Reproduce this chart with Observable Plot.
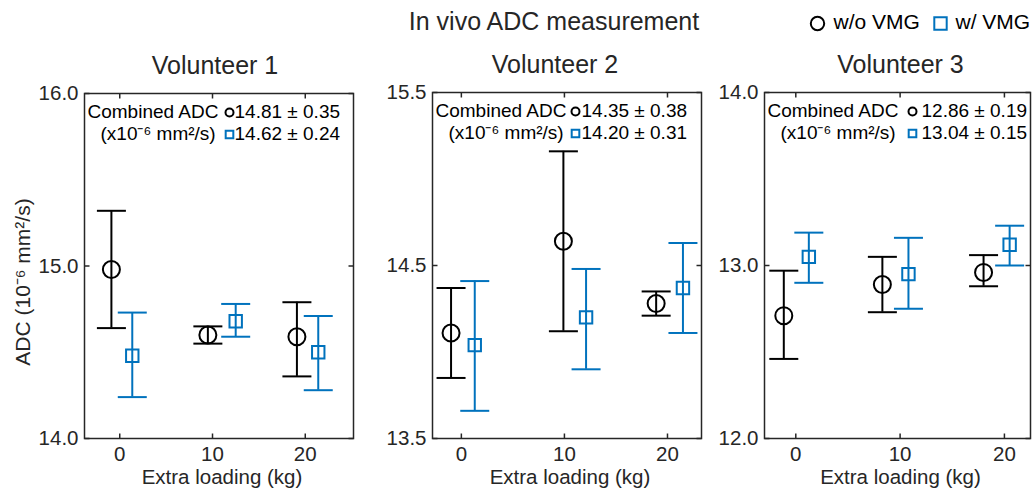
<!DOCTYPE html>
<html>
<head>
<meta charset="utf-8">
<script src="https://cdn.jsdelivr.net/npm/d3@7"></script>
<script src="https://cdn.jsdelivr.net/npm/@observablehq/plot@0.6"></script>
<style>
  html, body { margin: 0; padding: 0; background: #fff; }
  #chart { position: relative; width: 1032px; height: 494px; overflow: hidden; background: #fff; }
</style>
</head>
<body>
<div id="chart"></div>
<script>
// ---------------- data ----------------
const loadings = [0, 10, 20];
const xTickLabels = ["0", "10", "20"];
const seriesNames = ["w/o VMG", "w/ VMG"];
const panelTitles = ["Volunteer 1", "Volunteer 2", "Volunteer 3"];
const mainTitle = "In vivo ADC measurement";
const yLabel = "ADC (10⁻⁶ mm²/s)";
const xLabel = "Extra loading (kg)";
const combinedLabel1 = "Combined ADC";
const combinedLabel2 = "(x10⁻⁶ mm²/s)";

// Volunteer 1
const v1YTicks = [14.0, 15.0, 16.0];
const v1WoX = [-0.9, 9.5, 19.1];
const v1WoMean = [14.98, 14.60, 14.59];
const v1WoLo = [14.64, 14.55, 14.36];
const v1WoHi = [15.32, 14.65, 14.79];
const v1WX = [1.35, 12.5, 21.4];
const v1WMean = [14.48, 14.68, 14.50];
const v1WLo = [14.24, 14.59, 14.28];
const v1WHi = [14.73, 14.78, 14.71];
const v1Combined = ["14.81 ± 0.35", "14.62 ± 0.24"];

// Volunteer 2
const v2YTicks = [13.5, 14.5, 15.5];
const v2WoX = [-1.0, 9.9, 18.9];
const v2WoMean = [14.11, 14.64, 14.28];
const v2WoLo = [13.85, 14.12, 14.21];
const v2WoHi = [14.37, 15.16, 14.35];
const v2WX = [1.3, 12.1, 21.5];
const v2WMean = [14.04, 14.20, 14.37];
const v2WLo = [13.66, 13.90, 14.11];
const v2WHi = [14.41, 14.48, 14.63];
const v2Combined = ["14.35 ± 0.38", "14.20 ± 0.31"];

// Volunteer 3
const v3YTicks = [12.0, 13.0, 14.0];
const v3WoX = [-1.15, 8.3, 18.0];
const v3WoMean = [12.71, 12.89, 12.96];
const v3WoLo = [12.46, 12.73, 12.88];
const v3WoHi = [12.97, 13.05, 13.06];
const v3WX = [1.25, 10.8, 20.5];
const v3WMean = [13.05, 12.95, 13.12];
const v3WLo = [12.90, 12.75, 13.00];
const v3WHi = [13.19, 13.16, 13.23];
const v3Combined = ["12.86 ± 0.19", "13.04 ± 0.15"];

// ---------------- styling ----------------
const FONT = '"Liberation Sans", Arial, Helvetica, sans-serif';
const INK = "#262626";
const BLACK = "#000000";
const BLUE = "#0072BD";
const W = 1032, H = 494;

const capSym = {draw(c) { c.moveTo(-14.5, 0); c.lineTo(14.5, 0); }};
const tickUp = {draw(c) { c.moveTo(0, 0); c.lineTo(0, -5); }};
const tickDown = {draw(c) { c.moveTo(0, 0); c.lineTo(0, 5); }};
const tickRight = {draw(c) { c.moveTo(0, 0); c.lineTo(5, 0); }};
const tickLeft = {draw(c) { c.moveTo(0, 0); c.lineTo(-5, 0); }};

function rows(x, mean, lo, hi) {
  return x.map((xi, i) => ({x: xi, mean: mean[i], lo: lo[i], hi: hi[i]}));
}

function errorMarks(data, color, symbol, r) {
  return [
    Plot.ruleX(data, {x: "x", y1: "lo", y2: "hi", stroke: color, strokeWidth: 2}),
    Plot.dot(data, {x: "x", y: "lo", symbol: capSym, stroke: color, fill: "none", strokeWidth: 2}),
    Plot.dot(data, {x: "x", y: "hi", symbol: capSym, stroke: color, fill: "none", strokeWidth: 2}),
    Plot.dot(data, {x: "x", y: "mean", symbol, r, stroke: color, fill: "none", strokeWidth: 2})
  ];
}

function label(txt, opts) {
  return Plot.text([txt], {text: d => d, lineAnchor: "middle", ...opts});
}

function panel(cfg) {
  const wo = rows(cfg.woX, cfg.woMean, cfg.woLo, cfg.woHi);
  const w = rows(cfg.wX, cfg.wMean, cfg.wLo, cfg.wHi);
  const a = cfg.ann;
  const marks = [
    // axis ticks (inward, mirrored)
    Plot.dot(loadings, {x: d => d, frameAnchor: "bottom", symbol: tickUp, stroke: INK, strokeWidth: 1.5}),
    Plot.dot(loadings, {x: d => d, frameAnchor: "top", symbol: tickDown, stroke: INK, strokeWidth: 1.5}),
    Plot.dot(cfg.yTicks, {y: d => d, frameAnchor: "left", symbol: tickRight, stroke: INK, strokeWidth: 1.5}),
    Plot.dot(cfg.yTicks, {y: d => d, frameAnchor: "right", symbol: tickLeft, stroke: INK, strokeWidth: 1.5}),
    // tick labels
    Plot.text(loadings, {x: d => d, frameAnchor: "bottom", lineAnchor: "middle", dy: 16, text: (d, i) => xTickLabels[i], fontSize: 20.5, fill: INK}),
    Plot.text(cfg.yTicks, {y: d => d, frameAnchor: "left", lineAnchor: "middle", dx: -6, textAnchor: "end", text: d => d.toFixed(1), fontSize: 20.5, fill: INK}),
    // axis label and panel title
    label(xLabel, {frameAnchor: "bottom", dx: 3, dy: 39, fontSize: 20.5, fill: INK}),
    label(cfg.title, {frameAnchor: "top", dx: cfg.titleDx, dy: -28, fontSize: 25, fill: INK}),
    // error bars
    ...errorMarks(wo, BLACK, "circle", 8.5),
    ...errorMarks(w, BLUE, "square", 7),
    // combined ADC annotation
    label(combinedLabel1, {frameAnchor: "top-left", dx: a.labelDx, dy: 18, textAnchor: "start", fontSize: 19, fill: BLACK}),
    label(combinedLabel2, {frameAnchor: "top-left", dx: a.labelDx + 13, dy: 40, textAnchor: "start", fontSize: 19, fill: BLACK}),
    Plot.dot([0], {frameAnchor: "top-left", dx: a.markerDx, dy: 19, symbol: "circle", r: 4, stroke: BLACK, fill: "none", strokeWidth: 2}),
    Plot.dot([0], {frameAnchor: "top-left", dx: a.markerDx, dy: 41, symbol: "square", r: 4.3, stroke: BLUE, fill: "none", strokeWidth: 2}),
    label(cfg.combined[0], {frameAnchor: "top-left", dx: a.valueDx, dy: 18, textAnchor: "start", fontSize: 19, fill: BLACK}),
    label(cfg.combined[1], {frameAnchor: "top-left", dx: a.valueDx, dy: 40, textAnchor: "start", fontSize: 19, fill: BLACK}),
    Plot.frame({stroke: INK, strokeWidth: 1.5}),
    ...(cfg.extra || [])
  ];
  return Plot.plot({
    width: W, height: H,
    marginLeft: cfg.frame[0], marginTop: cfg.frame[1],
    marginRight: W - cfg.frame[2], marginBottom: H - cfg.frame[3],
    x: {domain: cfg.xDomain, axis: null},
    y: {domain: [cfg.yTicks[0], cfg.yTicks[2]], axis: null},
    style: {background: "none", position: "absolute", left: "0px", top: "0px", overflow: "visible",
            fontFamily: FONT, maxWidth: "none"},
    marks
  });
}

const chart = document.getElementById("chart");

chart.append(panel({
  frame: [84, 93, 353, 438], xDomain: [-3.8, 25.2], yTicks: v1YTicks,
  woX: v1WoX, woMean: v1WoMean, woLo: v1WoLo, woHi: v1WoHi,
  wX: v1WX, wMean: v1WMean, wLo: v1WLo, wHi: v1WHi,
  combined: v1Combined, title: panelTitles[0], titleDx: -4,
  ann: {labelDx: 3, markerDx: 145, valueDx: 150},
  extra: [
    label(yLabel, {frameAnchor: "left", textAnchor: "middle", rotate: -90, dx: -61, dy: 16, fontSize: 21, fill: INK})
  ]
}));

chart.append(panel({
  frame: [432, 92, 701, 438], xDomain: [-2.8, 23.3], yTicks: v2YTicks,
  woX: v2WoX, woMean: v2WoMean, woLo: v2WoLo, woHi: v2WoHi,
  wX: v2WX, wMean: v2WMean, wLo: v2WLo, wHi: v2WHi,
  combined: v2Combined, title: panelTitles[1], titleDx: -12,
  ann: {labelDx: 3, markerDx: 143, valueDx: 149},
  extra: [
    label(mainTitle, {frameAnchor: "top", dx: -13, dy: -71, fontSize: 25, fill: INK})
  ]
}));

chart.append(panel({
  frame: [764, 92, 1030, 438], xDomain: [-3.0, 22.5], yTicks: v3YTicks,
  woX: v3WoX, woMean: v3WoMean, woLo: v3WoLo, woHi: v3WoHi,
  wX: v3WX, wMean: v3WMean, wLo: v3WLo, wHi: v3WHi,
  combined: v3Combined, title: panelTitles[2], titleDx: 3,
  ann: {labelDx: 3, markerDx: 148, valueDx: 157},
  extra: [
    Plot.dot([0], {frameAnchor: "top-left", dx: 53, dy: -69, symbol: "circle", r: 6.7, stroke: BLACK, fill: "none", strokeWidth: 2}),
    label(seriesNames[0], {frameAnchor: "top-left", dx: 69, dy: -70, textAnchor: "start", fontSize: 21, fill: BLACK}),
    Plot.dot([0], {frameAnchor: "top-left", dx: 176, dy: -69, symbol: "square", r: 7, stroke: BLUE, fill: "none", strokeWidth: 2}),
    label(seriesNames[1], {frameAnchor: "top-left", dx: 191, dy: -70, textAnchor: "start", fontSize: 21, fill: BLACK})
  ]
}));
</script>
</body>
</html>
